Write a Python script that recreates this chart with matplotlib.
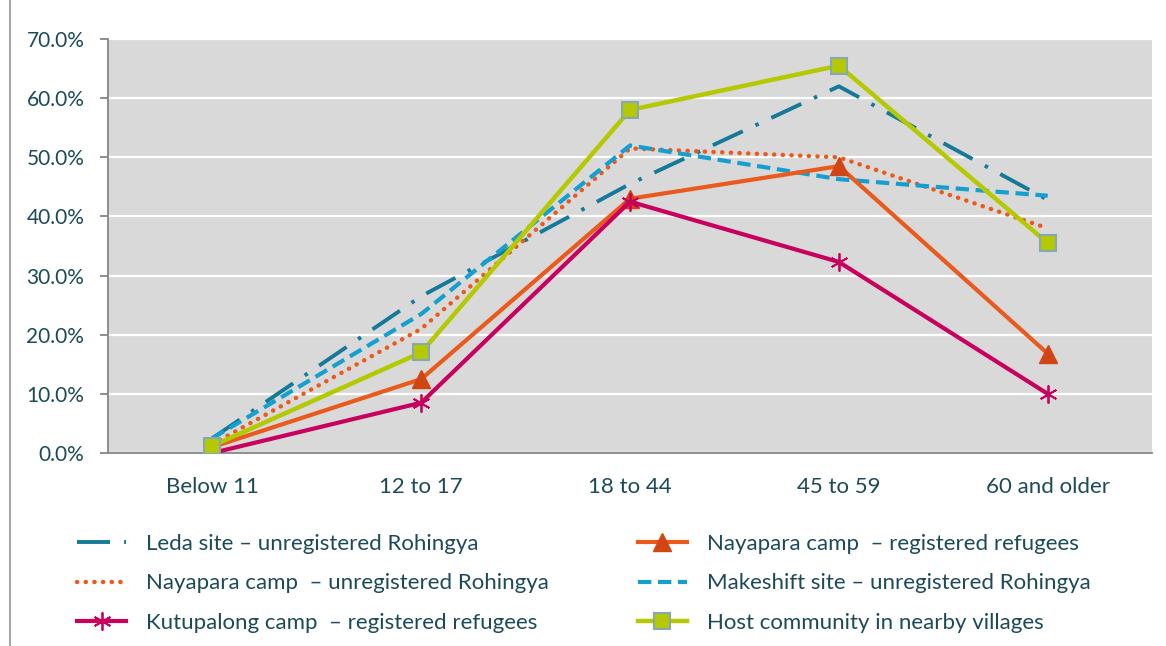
import numpy as np
import matplotlib.pyplot as plt
from matplotlib.lines import Line2D

# age groups and share of respondents per site
age_groups = ['Below 11', '12 to 17', '18 to 44', '45 to 59', '60 and older']
leda_unreg = [2.5, 26.5, 45.5, 62.0, 42.8]
nayapara_reg = [1.0, 12.5, 43.0, 48.5, 16.8]
nayapara_unreg = [1.5, 21.0, 51.5, 50.0, 38.0]
makeshift_unreg = [2.5, 23.5, 52.0, 46.3, 43.5]
kutupalong_reg = [0.0, 8.5, 42.5, 32.3, 10.0]
host_community = [1.2, 17.0, 58.0, 65.5, 35.5]

text_col = '#1C4A58'
plt.rcParams['font.family'] = ['Lato', 'DejaVu Sans']

fig = plt.figure(figsize=(11.66, 6.46), dpi=100)
ax = fig.add_axes([0.0926, 0.2988, 0.8955, 0.6408])
ax.set_facecolor('#D9D9D9')

x = np.arange(len(age_groups))

ax.plot(x, leda_unreg, color='#15799A', lw=2.8, linestyle=(0, (8.5, 3.6, 0.9, 3.6)),
        label='Leda site \u2013 unregistered Rohingya', zorder=3)
ax.plot(x, nayapara_reg, color='#EA5A1C', lw=3.0, marker='^', markersize=13,
        markerfacecolor='#D14515', markeredgecolor='#D14515',
        label='Nayapara camp  \u2013 registered refugees', zorder=4)
ax.plot(x, nayapara_unreg, color='#EA5A1C', lw=3.2, linestyle=(0, (0.05, 1.9)),
        dash_capstyle='round', label='Nayapara camp  \u2013 unregistered Rohingya', zorder=3)
ax.plot(x, makeshift_unreg, color='#159FD0', lw=3.0, linestyle=(0, (3.2, 1.6)),
        label='Makeshift site \u2013 unregistered Rohingya', zorder=3)
ax.plot(x, kutupalong_reg, color='#C8005E', lw=3.0, marker=(6, 2, 0), markersize=13,
        markeredgewidth=1.3, markeredgecolor='#C8005E',
        label='Kutupalong camp  \u2013 registered refugees', zorder=4)
ax.plot(x, host_community, color='#B5C900', lw=3.2, marker='s', markersize=11,
        markerfacecolor='#B5C900', markeredgecolor='#86A8B4', markeredgewidth=1.5,
        label='Host community in nearby villages', zorder=5)

ax.set_xlim(-0.5, len(age_groups) - 0.5)
ax.set_ylim(0, 70)
ax.set_yticks(np.arange(0, 71, 10))
ax.set_yticklabels([f'{v:.1f}%' for v in np.arange(0, 71, 10)])
ax.set_xticks(x)
ax.set_xticklabels(age_groups)

ax.yaxis.grid(True, color='white', lw=1.6)
ax.set_axisbelow(True)
for s in ['top', 'right']:
    ax.spines[s].set_visible(False)
for s in ['left', 'bottom']:
    ax.spines[s].set_color('#868686')
    ax.spines[s].set_linewidth(1.3)
ax.tick_params(axis='y', colors='#868686', labelcolor=text_col, labelsize=15,
               length=6, width=1.3, pad=11)
ax.tick_params(axis='x', labelcolor=text_col, labelsize=16, length=0, pad=17)

handles, labels = ax.get_legend_handles_labels()
order = [0, 2, 4, 1, 3, 5]
leg = fig.legend([handles[i] for i in order], [labels[i] for i in order],
                 loc='upper left', bbox_to_anchor=(0.0566, 0.191), ncol=2,
                 frameon=False, fontsize=16, handlelength=2.2, handletextpad=0.9,
                 columnspacing=4.0, labelspacing=0.88, borderpad=0)
for t in leg.get_texts():
    t.set_color(text_col)

# chart border on the left
fig.add_artist(Line2D([0.0086, 0.0086], [0, 1], color='#A6A6A6', lw=1.5))

fig.savefig('out.png', dpi=100)
